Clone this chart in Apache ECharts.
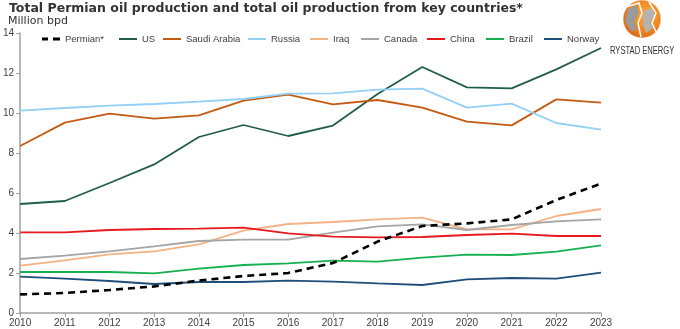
<!DOCTYPE html>
<html>
<head>
<meta charset="utf-8">
<script src="https://cdn.jsdelivr.net/npm/echarts@6/dist/echarts.min.js"></script>
<style>
html,body{margin:0;padding:0;background:#fff;}
#chart{width:680px;height:329px;}
</style>
</head>
<body>
<div id="chart"></div>
<script>
const years = ['2010','2011','2012','2013','2014','2015','2016','2017','2018','2019','2020','2021','2022','2023'];
const permian = [0.93,1.0,1.15,1.33,1.62,1.85,2.0,2.5,3.57,4.35,4.48,4.68,5.65,6.47];
const us = [5.45,5.6,6.5,7.43,8.8,9.4,8.85,9.37,10.95,12.3,11.28,11.23,12.18,13.25];
const saudi = [8.35,9.52,9.97,9.72,9.88,10.62,10.92,10.43,10.65,10.27,9.57,9.38,10.68,10.52];
const russia = [10.12,10.25,10.37,10.45,10.57,10.7,10.97,10.98,11.17,11.22,10.27,10.47,9.5,9.17];
const iraq = [2.37,2.63,2.93,3.08,3.43,4.12,4.45,4.55,4.68,4.77,4.18,4.18,4.85,5.2];
const canada = [2.7,2.87,3.08,3.33,3.6,3.67,3.67,4.02,4.33,4.43,4.15,4.4,4.58,4.68];
const china = [4.03,4.03,4.15,4.2,4.22,4.27,3.98,3.82,3.78,3.8,3.9,3.97,3.85,3.85];
const brazil = [2.05,2.05,2.05,1.98,2.22,2.4,2.48,2.62,2.57,2.77,2.92,2.9,3.07,3.38];
const norway = [1.82,1.72,1.6,1.45,1.55,1.55,1.62,1.57,1.48,1.4,1.68,1.75,1.72,2.02];
const yTicks = [0,2,4,6,8,10,12,14];

const names = ['Permian*','US','Saudi Arabia','Russia','Iraq','Canada','China','Brazil','Norway'];
const colors = ['#000000','#215e47','#c55a11','#92d0f5','#f4b183','#a5a5a5','#e8191c','#16b050','#1f4e79'];
const values = [permian,us,saudi,russia,iraq,canada,china,brazil,norway];
const legendLeft = [37,114,158,243,305,356,422,481,539];

const chart = echarts.init(document.getElementById('chart'), null, {renderer:'canvas'});

const series = names.map((n,i)=>({
  name:n, type:'line', data:values[i], symbol:'none', smooth:false,
  z: i===0 ? 10 : 2,
  lineStyle:{color:colors[i], width: i===0 ? 2.6 : 1.8, type: i===0 ? [7,5] : 'solid'},
  itemStyle:{color:colors[i]}
}));
const ordered = series.slice(1).concat([series[0]]);

const legends = names.map((n,i)=>({
  data:[n], left:legendLeft[i], top:29, itemWidth:18,
  itemHeight: i===0 ? 3 : 2, itemGap:0,
  icon: i===0 ? 'path://M0,0h6v3h-6z M11,0h7v3h-7z' : 'rect',
  textStyle:{fontFamily:'Liberation Sans, Arial', fontSize:9.5, color:'#404040'},
  selectedMode:false
}));

const option = {
  animation:false,
  backgroundColor:'#ffffff',
  title:[
    {text:'Total Permian oil production and total oil production from key countries*', left:4, top:-3,
     textStyle:{fontFamily:'DejaVu Sans', fontWeight:'bold', fontSize:12.5, color:'#333333'}},
    {text:'Million bpd', left:3, top:11,
     textStyle:{fontFamily:'DejaVu Sans', fontWeight:'normal', fontSize:11, color:'#333333'}}
  ],
  legend: legends,
  grid:{left:16, right:79, top:33, bottom:16, containLabel:false},
  xAxis:{
    type:'category', data:years, boundaryGap:false,
    axisLine:{lineStyle:{color:'#a0a0a0', width:1.5}},
    axisTick:{show:true, inside:false, length:4, alignWithLabel:true, lineStyle:{color:'#a0a0a0'}},
    axisLabel:{fontFamily:'Liberation Sans, Arial', fontSize:10, color:'#404040', margin:5, interval:0},
    splitLine:{show:false}
  },
  yAxis:{
    type:'value', min:yTicks[0], max:yTicks[yTicks.length-1], interval:2,
    axisLine:{show:true, lineStyle:{color:'#a0a0a0', width:1.5}},
    axisTick:{show:true, length:4, lineStyle:{color:'#a0a0a0'}},
    axisLabel:{fontFamily:'Liberation Sans, Arial', fontSize:10, color:'#404040', margin:6},
    splitLine:{show:false}
  },
  graphic:[
    {type:'circle', shape:{cx:642, cy:19, r:19}, z:100,
     style:{fill:new echarts.graphic.RadialGradient(0.6,0.4,0.7,[{offset:0,color:'#fbb040'},{offset:0.6,color:'#f0821e'},{offset:1,color:'#d4600f'}]), stroke:'#ffffff', lineWidth:0.5}},
    {type:'polygon', z:101, shape:{points:[[628,9],[636,5],[639,13],[634,21],[637,30],[631,31],[625,21]]}, style:{fill:'#9a9a9a'}},
    {type:'polygon', z:101, shape:{points:[[644,11],[651,8],[655,16],[650,21],[653,28],[646,33],[643,24]]}, style:{fill:'#b3b3b3'}},
    {type:'polyline', z:102, shape:{points:[[626,7],[639,3],[642,13],[638,23],[641,37]]}, style:{stroke:'#ffffff', lineWidth:1.5, fill:null}},
    {type:'polyline', z:102, shape:{points:[[649,2],[656,13],[652,23],[657,34]]}, style:{stroke:'#ffffff', lineWidth:1.5, fill:null}},
    {type:'text', z:100, x:610, y:46, scaleX:0.76,
     style:{text:'RYSTAD ENERGY', fontFamily:'Liberation Sans, Arial', fontSize:10, fill:'#333333'}}
  ],
  series: ordered
};
chart.setOption(option);
</script>
</body>
</html>
